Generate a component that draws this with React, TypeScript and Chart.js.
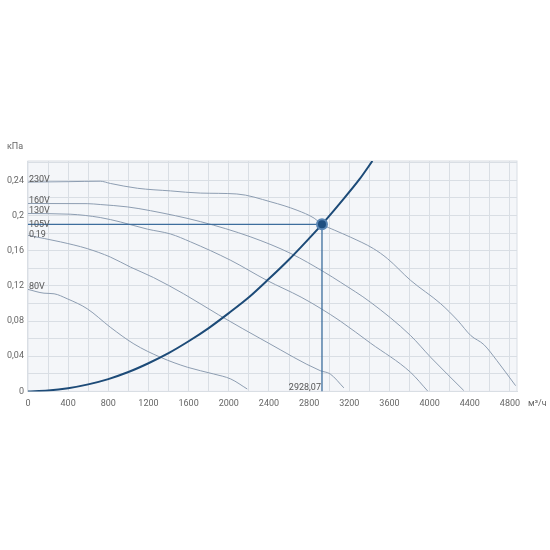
import { useEffect, useRef } from "react";
import { Chart, Plugin, registerables } from "chart.js";

Chart.register(...registerables);

// fan curves, flow in m3/h and pressure in kPa
const flow230 = [0, 400, 720, 820, 1090, 1420, 1720, 2080, 2420, 2680, 2850, 2928.07, 3050, 3210, 3440, 3580, 3810, 4110, 4280, 4410, 4540, 4670, 4856];
const pres230 = [0.238, 0.2385, 0.239, 0.2365, 0.231, 0.228, 0.2255, 0.2245, 0.2155, 0.206, 0.197, 0.19, 0.1835, 0.1755, 0.1624, 0.151, 0.1263, 0.0997, 0.0806, 0.0635, 0.0532, 0.035, 0.0065];

const flow160 = [0, 590, 720, 990, 1220, 1720, 2220, 2620, 2950, 3110, 3410, 3810, 4010, 4340];
const pres160 = [0.2137, 0.2135, 0.2125, 0.2098, 0.2055, 0.193, 0.1756, 0.1567, 0.1357, 0.1243, 0.1015, 0.0635, 0.0388, 0.001];

const flow130 = [0, 420, 720, 920, 1190, 1420, 1620, 2020, 2380, 2720, 2920, 3110, 3410, 3810, 3980];
const pres130 = [0.2023, 0.2015, 0.1977, 0.1927, 0.1845, 0.179, 0.17, 0.149, 0.1262, 0.1072, 0.094, 0.08, 0.055, 0.0217, 0.0005];

const flow105 = [0, 325, 590, 820, 1020, 1250, 1550, 1900, 2380, 2910, 3010, 3146];
const pres105 = [0.1775, 0.17, 0.1624, 0.1528, 0.1414, 0.1295, 0.111, 0.087, 0.0559, 0.0236, 0.0198, 0.004];

const flow80 = [0, 160, 260, 390, 590, 820, 1055, 1320, 1590, 1850, 2020, 2184];
const pres80 = [0.116, 0.1117, 0.111, 0.1054, 0.094, 0.073, 0.054, 0.0388, 0.0274, 0.0198, 0.0141, 0.0027];

// network (system) curve
const flowSys = [0, 200, 400, 600, 800, 1000, 1200, 1400, 1600, 1800, 2000, 2200, 2400, 2600, 2800, 2928.07, 3100, 3300, 3430];
const presSys = [0, 0.001, 0.0036, 0.008, 0.014, 0.022, 0.032, 0.0435, 0.057, 0.072, 0.089, 0.107, 0.128, 0.15, 0.174, 0.19, 0.213, 0.241, 0.262];

const curveNames = ["230V", "160V", "130V", "105V", "80V"];
const curveLabelLevels = [0.238, 0.2137, 0.2023, 0.1872, 0.116];

const opFlow = 2928.07;
const opPressure = 0.19;

const fmt = (v: number) => String(v).replace(".", ",");
const pts = (xs: number[], ys: number[]) => xs.map((x, i) => ({ x, y: ys[i] }));

const plotBackground: Plugin<"line"> = {
  id: "plotBackground",
  beforeDraw(chart) {
    const { ctx, chartArea } = chart;
    ctx.save();
    ctx.fillStyle = "#f4f6f9";
    ctx.fillRect(chartArea.left, chartArea.top, chartArea.width, chartArea.height);
    ctx.restore();
  },
  beforeDatasetsDraw(chart) {
    const { ctx, chartArea } = chart;
    ctx.save();
    ctx.strokeStyle = "#d9dee4";
    ctx.lineWidth = 1;
    ctx.strokeRect(chartArea.left, chartArea.top, chartArea.width, chartArea.height);
    ctx.restore();
  },
};

const textLabels: Plugin<"line"> = {
  id: "textLabels",
  afterDatasetsDraw(chart) {
    const { ctx, chartArea, scales } = chart;
    const xs = scales.x;
    const ys = scales.y;
    ctx.save();
    ctx.font = "9px Roboto";
    ctx.fillStyle = "#555";
    ctx.textAlign = "left";
    ctx.textBaseline = "alphabetic";
    curveNames.forEach((name, i) => {
      ctx.fillText(name, chartArea.left + 1, ys.getPixelForValue(curveLabelLevels[i]));
    });
    ctx.fillText(fmt(opPressure), chartArea.left + 1, ys.getPixelForValue(opPressure) + 12.5);
    ctx.textAlign = "right";
    ctx.fillText(fmt(opFlow), xs.getPixelForValue(opFlow) - 1, chartArea.bottom - 1.5);
    ctx.fillStyle = "#666";
    ctx.textAlign = "left";
    ctx.textBaseline = "middle";
    ctx.fillText("кПа", 7, chartArea.top - 14.5);
    ctx.fillText("м³/ч", chartArea.right + 11, chartArea.bottom + 12.6);
    ctx.restore();
  },
};

const App = () => {
  const canvasRef = useRef<HTMLCanvasElement>(null);
  const chartRef = useRef<Chart | null>(null);

  useEffect(() => {
    if (!canvasRef.current) return;
    if (chartRef.current) chartRef.current.destroy();

    const fanColor = "#8d9db1";
    const fan = (xs: number[], ys: number[]) => ({
      data: pts(xs, ys),
      borderColor: fanColor,
      borderWidth: 1,
      pointRadius: 0,
      cubicInterpolationMode: "monotone" as const,
    });

    chartRef.current = new Chart(canvasRef.current, {
      type: "line",
      data: {
        datasets: [
          {
            data: [{ x: opFlow, y: opPressure }],
            pointRadius: 5,
            pointBackgroundColor: "#1f4f80",
            pointBorderColor: "#5a86b4",
            pointBorderWidth: 2,
            showLine: false,
          },
          {
            data: pts(flowSys, presSys),
            borderColor: "#1d4b78",
            borderWidth: 2,
            pointRadius: 0,
            cubicInterpolationMode: "monotone",
          },
          {
            data: [
              { x: 0, y: opPressure },
              { x: opFlow, y: opPressure },
              { x: opFlow, y: 0 },
            ],
            borderColor: "#3d6d9c",
            borderWidth: 1.3,
            pointRadius: 0,
            tension: 0,
          },
          fan(flow230, pres230),
          fan(flow160, pres160),
          fan(flow130, pres130),
          fan(flow105, pres105),
          fan(flow80, pres80),
        ],
      },
      options: {
        responsive: true,
        maintainAspectRatio: false,
        animation: false,
        layout: { padding: { left: 3, right: 33, top: 161, bottom: 133.8 } },
        plugins: {
          legend: { display: false },
          tooltip: { enabled: false },
        },
        scales: {
          x: {
            type: "linear",
            min: 0,
            max: 4870,
            grid: { color: "#d9dee4", drawTicks: false },
            border: { color: "#d9dee4" },
            ticks: {
              stepSize: 200,
              autoSkip: false,
              maxRotation: 0,
              includeBounds: false,
              padding: 7,
              color: "#666",
              font: { family: "Roboto", size: 9 },
              callback: (value) => (Number(value) % 400 === 0 ? String(value) : ""),
            },
          },
          y: {
            type: "linear",
            min: 0,
            max: 0.262,
            grid: { color: "#d9dee4", drawTicks: false },
            border: { color: "#d9dee4" },
            ticks: {
              stepSize: 0.02,
              autoSkip: false,
              includeBounds: false,
              padding: 4,
              color: "#666",
              font: { family: "Roboto", size: 9 },
              callback: (value) => {
                const v = Math.round(Number(value) * 100);
                return v % 4 === 0 ? fmt(v / 100) : "";
              },
            },
          },
        },
      },
      plugins: [plotBackground, textLabels],
    });

    return () => {
      if (chartRef.current) {
        chartRef.current.destroy();
        chartRef.current = null;
      }
    };
  }, []);

  return (
    <div style={{ position: "absolute", left: 0, top: 0, width: 550, height: 550, background: "#fff" }}>
      <canvas ref={canvasRef} />
    </div>
  );
};

export default App;
